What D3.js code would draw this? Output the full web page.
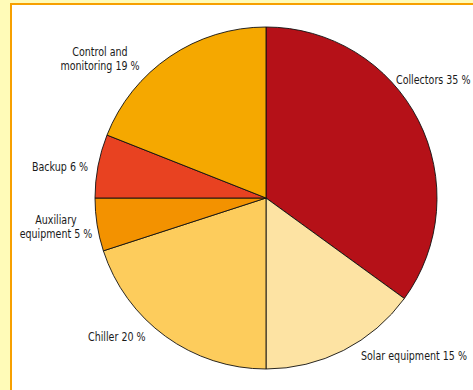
<!DOCTYPE html>
<html>
<head>
<meta charset="utf-8">
<script src="https://cdn.jsdelivr.net/npm/d3@7"></script>
<style>
  html, body { margin: 0; padding: 0; background: #fffbb8; }
  svg { display: block; }
  .lbl { font-family: "DejaVu Sans Condensed", "Liberation Sans Narrow", sans-serif; font-stretch: condensed; font-size: 13px; fill: #1a1a1a; }
</style>
</head>
<body>
<div id="chart"></div>
<script>
// shares of system cost, clockwise from 12 o'clock
var categories = ["Collectors", "Solar equipment", "Chiller", "Auxiliary equipment", "Backup", "Control and monitoring"];
var shares = [35, 15, 20, 5, 6, 19];
var colors = ["#b51118", "#fde3a3", "#fdcc5c", "#f39200", "#e84221", "#f5a800"];
// label text lines (as printed)
var labelLines = [
    ["Collectors 35 %"],
    ["Solar equipment 15 %"],
    ["Chiller 20 %"],
    ["Auxiliary", "equipment 5 %"],
    ["Backup 6 %"],
    ["Control and", "monitoring 19 %"]
];

var WIDTH = 473, HEIGHT = 390;
var CX = 266, CY = 198, R = 171;

// hand placed label anchors [x, y of first baseline, anchor]
var labelLayout = [
    [396, 84, "start"],
    [361, 360, "start"],
    [88, 341, "start"],
    [56, 224, "middle"],
    [60, 171, "middle"],
    [100, 56, "middle"]
];

var svg = d3.select("#chart").append("svg")
    .attr("width", WIDTH)
    .attr("height", HEIGHT);

// panel with orange border
svg.append("rect")
    .attr("x", 11).attr("y", 4)
    .attr("width", WIDTH).attr("height", HEIGHT)
    .attr("fill", "#fff")
    .attr("stroke", "#f7a000")
    .attr("stroke-width", 2);

var pie = d3.pie().sort(null).value(function (d) { return d; });
var arc = d3.arc().innerRadius(0).outerRadius(R);

var g = svg.append("g").attr("transform", "translate(" + CX + "," + CY + ")");

g.selectAll("path")
    .data(pie(shares))
    .enter().append("path")
    .attr("d", arc)
    .attr("fill", function (d, i) { return colors[i]; })
    .attr("stroke", "#111")
    .attr("stroke-width", 0.9)
    .attr("stroke-linejoin", "round");

var labels = svg.append("g").attr("id", "labels");
var texts = labels.selectAll("text")
    .data(categories)
    .enter().append("text")
    .attr("class", "lbl")
    .attr("text-anchor", function (d, i) { return labelLayout[i][2]; })
    .each(function (d, i) {
        var t = d3.select(this);
        labelLines[i].forEach(function (line, k) {
            t.append("tspan").attr("x", 0).attr("y", k * 14).text(line);
        });
    });

// the printed face is narrow: squeeze so "Solar equipment 15 %" is ~106px wide
var ref = texts.filter(function (d, i) { return i === 1; }).node().getComputedTextLength();
var sx = Math.min(1, 106 / ref);
texts.attr("transform", function (d, i) {
    return "translate(" + labelLayout[i][0] + "," + labelLayout[i][1] + ")scale(" + sx + ",1)";
});
</script>
</body>
</html>
